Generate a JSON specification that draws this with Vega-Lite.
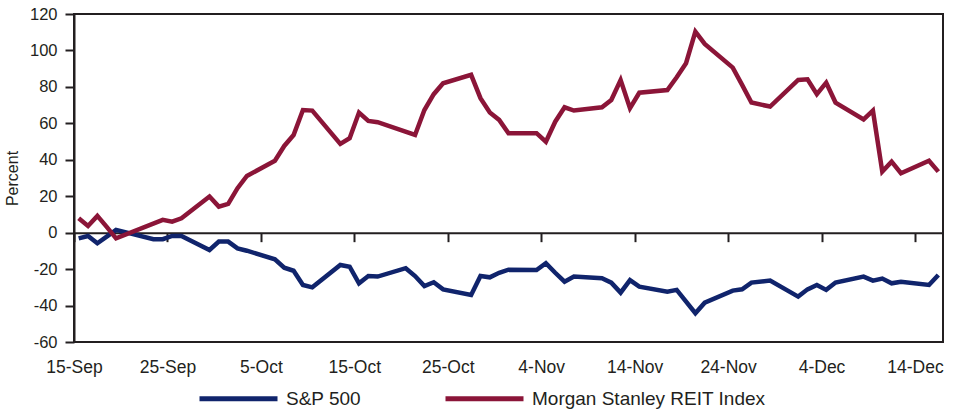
{
  "$schema": "https://vega.github.io/schema/vega-lite/v6.json",
  "width": 869,
  "height": 328,
  "autosize": {"type": "none"},
  "padding": {"left": 74, "top": 14, "right": 14, "bottom": 72},
  "background": "white",
  "config": {
    "view": {"stroke": "#231f20", "strokeWidth": 2},
    "font": "Liberation Sans",
    "axis": {"grid": false, "labelColor": "#231f20", "titleColor": "#231f20", "domainColor": "#231f20", "tickColor": "#231f20"}
  },
  "data": {
    "values": [
      {"d": "2008-09-15T12:00", "s": "S&P 500", "v": -3.1},
      {"d": "2008-09-16T12:00", "s": "S&P 500", "v": -1.8},
      {"d": "2008-09-17T12:00", "s": "S&P 500", "v": -5.8},
      {"d": "2008-09-18T12:00", "s": "S&P 500", "v": -2.2},
      {"d": "2008-09-19T12:00", "s": "S&P 500", "v": 1.5},
      {"d": "2008-09-23T12:00", "s": "S&P 500", "v": -3.6},
      {"d": "2008-09-24T12:00", "s": "S&P 500", "v": -3.6},
      {"d": "2008-09-25T12:00", "s": "S&P 500", "v": -1.8},
      {"d": "2008-09-26T12:00", "s": "S&P 500", "v": -1.8},
      {"d": "2008-09-29T12:00", "s": "S&P 500", "v": -9.5},
      {"d": "2008-09-30T12:00", "s": "S&P 500", "v": -4.9},
      {"d": "2008-10-01T12:00", "s": "S&P 500", "v": -4.9},
      {"d": "2008-10-02T12:00", "s": "S&P 500", "v": -8.6},
      {"d": "2008-10-03T12:00", "s": "S&P 500", "v": -9.9},
      {"d": "2008-10-06T12:00", "s": "S&P 500", "v": -14.6},
      {"d": "2008-10-07T12:00", "s": "S&P 500", "v": -19.2},
      {"d": "2008-10-08T12:00", "s": "S&P 500", "v": -20.9},
      {"d": "2008-10-09T12:00", "s": "S&P 500", "v": -28.7},
      {"d": "2008-10-10T12:00", "s": "S&P 500", "v": -30.0},
      {"d": "2008-10-13T12:00", "s": "S&P 500", "v": -17.7},
      {"d": "2008-10-14T12:00", "s": "S&P 500", "v": -18.7},
      {"d": "2008-10-15T12:00", "s": "S&P 500", "v": -27.8},
      {"d": "2008-10-16T12:00", "s": "S&P 500", "v": -23.8},
      {"d": "2008-10-17T12:00", "s": "S&P 500", "v": -24.1},
      {"d": "2008-10-20T12:00", "s": "S&P 500", "v": -19.5},
      {"d": "2008-10-21T12:00", "s": "S&P 500", "v": -23.8},
      {"d": "2008-10-22T12:00", "s": "S&P 500", "v": -29.3},
      {"d": "2008-10-23T12:00", "s": "S&P 500", "v": -27.2},
      {"d": "2008-10-24T12:00", "s": "S&P 500", "v": -31.1},
      {"d": "2008-10-27T12:00", "s": "S&P 500", "v": -34.2},
      {"d": "2008-10-28T12:00", "s": "S&P 500", "v": -23.8},
      {"d": "2008-10-29T12:00", "s": "S&P 500", "v": -24.5},
      {"d": "2008-10-30T12:00", "s": "S&P 500", "v": -22.0},
      {"d": "2008-10-31T12:00", "s": "S&P 500", "v": -20.3},
      {"d": "2008-11-03T12:00", "s": "S&P 500", "v": -20.5},
      {"d": "2008-11-04T12:00", "s": "S&P 500", "v": -16.8},
      {"d": "2008-11-05T12:00", "s": "S&P 500", "v": -22.0},
      {"d": "2008-11-06T12:00", "s": "S&P 500", "v": -26.9},
      {"d": "2008-11-07T12:00", "s": "S&P 500", "v": -24.1},
      {"d": "2008-11-10T12:00", "s": "S&P 500", "v": -25.0},
      {"d": "2008-11-11T12:00", "s": "S&P 500", "v": -27.4},
      {"d": "2008-11-12T12:00", "s": "S&P 500", "v": -32.9},
      {"d": "2008-11-13T12:00", "s": "S&P 500", "v": -26.0},
      {"d": "2008-11-14T12:00", "s": "S&P 500", "v": -29.6},
      {"d": "2008-11-17T12:00", "s": "S&P 500", "v": -32.4},
      {"d": "2008-11-18T12:00", "s": "S&P 500", "v": -31.4},
      {"d": "2008-11-20T12:00", "s": "S&P 500", "v": -44.2},
      {"d": "2008-11-21T12:00", "s": "S&P 500", "v": -38.4},
      {"d": "2008-11-24T12:00", "s": "S&P 500", "v": -31.8},
      {"d": "2008-11-25T12:00", "s": "S&P 500", "v": -31.1},
      {"d": "2008-11-26T12:00", "s": "S&P 500", "v": -27.4},
      {"d": "2008-11-28T12:00", "s": "S&P 500", "v": -26.3},
      {"d": "2008-12-01T12:00", "s": "S&P 500", "v": -35.1},
      {"d": "2008-12-02T12:00", "s": "S&P 500", "v": -31.1},
      {"d": "2008-12-03T12:00", "s": "S&P 500", "v": -28.7},
      {"d": "2008-12-04T12:00", "s": "S&P 500", "v": -31.4},
      {"d": "2008-12-05T12:00", "s": "S&P 500", "v": -27.4},
      {"d": "2008-12-08T12:00", "s": "S&P 500", "v": -24.1},
      {"d": "2008-12-09T12:00", "s": "S&P 500", "v": -26.3},
      {"d": "2008-12-10T12:00", "s": "S&P 500", "v": -25.2},
      {"d": "2008-12-11T12:00", "s": "S&P 500", "v": -27.8},
      {"d": "2008-12-12T12:00", "s": "S&P 500", "v": -26.9},
      {"d": "2008-12-15T12:00", "s": "S&P 500", "v": -28.7},
      {"d": "2008-12-16T12:00", "s": "S&P 500", "v": -23.2},
      {"d": "2008-09-15T12:00", "s": "Morgan Stanley REIT Index", "v": 7.9},
      {"d": "2008-09-16T12:00", "s": "Morgan Stanley REIT Index", "v": 3.7},
      {"d": "2008-09-17T12:00", "s": "Morgan Stanley REIT Index", "v": 9.2},
      {"d": "2008-09-18T12:00", "s": "Morgan Stanley REIT Index", "v": 3.2},
      {"d": "2008-09-19T12:00", "s": "Morgan Stanley REIT Index", "v": -3.1},
      {"d": "2008-09-24T12:00", "s": "Morgan Stanley REIT Index", "v": 7.0},
      {"d": "2008-09-25T12:00", "s": "Morgan Stanley REIT Index", "v": 6.0},
      {"d": "2008-09-26T12:00", "s": "Morgan Stanley REIT Index", "v": 7.9},
      {"d": "2008-09-29T12:00", "s": "Morgan Stanley REIT Index", "v": 19.8},
      {"d": "2008-09-30T12:00", "s": "Morgan Stanley REIT Index", "v": 14.3},
      {"d": "2008-10-01T12:00", "s": "Morgan Stanley REIT Index", "v": 15.8},
      {"d": "2008-10-02T12:00", "s": "Morgan Stanley REIT Index", "v": 24.4},
      {"d": "2008-10-03T12:00", "s": "Morgan Stanley REIT Index", "v": 31.1},
      {"d": "2008-10-06T12:00", "s": "Morgan Stanley REIT Index", "v": 39.5},
      {"d": "2008-10-07T12:00", "s": "Morgan Stanley REIT Index", "v": 47.6},
      {"d": "2008-10-08T12:00", "s": "Morgan Stanley REIT Index", "v": 53.6},
      {"d": "2008-10-09T12:00", "s": "Morgan Stanley REIT Index", "v": 67.3},
      {"d": "2008-10-10T12:00", "s": "Morgan Stanley REIT Index", "v": 67.0},
      {"d": "2008-10-13T12:00", "s": "Morgan Stanley REIT Index", "v": 48.7},
      {"d": "2008-10-14T12:00", "s": "Morgan Stanley REIT Index", "v": 51.8},
      {"d": "2008-10-15T12:00", "s": "Morgan Stanley REIT Index", "v": 65.9},
      {"d": "2008-10-16T12:00", "s": "Morgan Stanley REIT Index", "v": 61.3},
      {"d": "2008-10-17T12:00", "s": "Morgan Stanley REIT Index", "v": 60.6},
      {"d": "2008-10-21T12:00", "s": "Morgan Stanley REIT Index", "v": 53.6},
      {"d": "2008-10-22T12:00", "s": "Morgan Stanley REIT Index", "v": 67.3},
      {"d": "2008-10-23T12:00", "s": "Morgan Stanley REIT Index", "v": 76.0},
      {"d": "2008-10-24T12:00", "s": "Morgan Stanley REIT Index", "v": 82.0},
      {"d": "2008-10-27T12:00", "s": "Morgan Stanley REIT Index", "v": 86.6},
      {"d": "2008-10-28T12:00", "s": "Morgan Stanley REIT Index", "v": 73.8},
      {"d": "2008-10-29T12:00", "s": "Morgan Stanley REIT Index", "v": 65.9},
      {"d": "2008-10-30T12:00", "s": "Morgan Stanley REIT Index", "v": 61.9},
      {"d": "2008-10-31T12:00", "s": "Morgan Stanley REIT Index", "v": 54.6},
      {"d": "2008-11-03T12:00", "s": "Morgan Stanley REIT Index", "v": 54.6},
      {"d": "2008-11-04T12:00", "s": "Morgan Stanley REIT Index", "v": 49.9},
      {"d": "2008-11-05T12:00", "s": "Morgan Stanley REIT Index", "v": 60.9},
      {"d": "2008-11-06T12:00", "s": "Morgan Stanley REIT Index", "v": 68.8},
      {"d": "2008-11-07T12:00", "s": "Morgan Stanley REIT Index", "v": 67.0},
      {"d": "2008-11-10T12:00", "s": "Morgan Stanley REIT Index", "v": 68.8},
      {"d": "2008-11-11T12:00", "s": "Morgan Stanley REIT Index", "v": 72.8},
      {"d": "2008-11-12T12:00", "s": "Morgan Stanley REIT Index", "v": 83.8},
      {"d": "2008-11-13T12:00", "s": "Morgan Stanley REIT Index", "v": 68.3},
      {"d": "2008-11-14T12:00", "s": "Morgan Stanley REIT Index", "v": 76.8},
      {"d": "2008-11-17T12:00", "s": "Morgan Stanley REIT Index", "v": 78.3},
      {"d": "2008-11-18T12:00", "s": "Morgan Stanley REIT Index", "v": 85.3},
      {"d": "2008-11-19T12:00", "s": "Morgan Stanley REIT Index", "v": 93.0},
      {"d": "2008-11-20T12:00", "s": "Morgan Stanley REIT Index", "v": 110.3},
      {"d": "2008-11-21T12:00", "s": "Morgan Stanley REIT Index", "v": 103.6},
      {"d": "2008-11-24T12:00", "s": "Morgan Stanley REIT Index", "v": 90.6},
      {"d": "2008-11-25T12:00", "s": "Morgan Stanley REIT Index", "v": 81.1},
      {"d": "2008-11-26T12:00", "s": "Morgan Stanley REIT Index", "v": 71.4},
      {"d": "2008-11-28T12:00", "s": "Morgan Stanley REIT Index", "v": 69.2},
      {"d": "2008-12-01T12:00", "s": "Morgan Stanley REIT Index", "v": 83.8},
      {"d": "2008-12-02T12:00", "s": "Morgan Stanley REIT Index", "v": 84.2},
      {"d": "2008-12-03T12:00", "s": "Morgan Stanley REIT Index", "v": 76.0},
      {"d": "2008-12-04T12:00", "s": "Morgan Stanley REIT Index", "v": 82.3},
      {"d": "2008-12-05T12:00", "s": "Morgan Stanley REIT Index", "v": 71.4},
      {"d": "2008-12-08T12:00", "s": "Morgan Stanley REIT Index", "v": 62.2},
      {"d": "2008-12-09T12:00", "s": "Morgan Stanley REIT Index", "v": 67.0},
      {"d": "2008-12-10T12:00", "s": "Morgan Stanley REIT Index", "v": 33.5},
      {"d": "2008-12-11T12:00", "s": "Morgan Stanley REIT Index", "v": 39.0},
      {"d": "2008-12-12T12:00", "s": "Morgan Stanley REIT Index", "v": 32.6},
      {"d": "2008-12-15T12:00", "s": "Morgan Stanley REIT Index", "v": 39.5},
      {"d": "2008-12-16T12:00", "s": "Morgan Stanley REIT Index", "v": 33.5}
    ]
  },
  "encoding": {
    "y": {
      "field": "v",
      "type": "quantitative",
      "scale": {"domain": [-60, 120], "nice": false, "zero": false},
      "axis": {
        "values": [-60, -40, -20, 0, 20, 40, 60, 80, 100, 120],
        "labelExpr": "'' + datum.value",
        "tickSize": 9,
        "tickWidth": 2,
        "domainWidth": 2,
        "labelFontSize": 16.5,
        "labelPadding": 8,
        "title": "Percent",
        "titleFontSize": 16,
        "titleFontWeight": "normal",
        "titlePadding": 9
      }
    },
    "color": {
      "field": "s",
      "type": "nominal",
      "scale": {"domain": ["S&P 500", "Morgan Stanley REIT Index"], "range": ["#10246c", "#8b1538"]},
      "legend": {
        "orient": "none",
        "legendX": 123,
        "legendY": 343,
        "direction": "horizontal",
        "title": null,
        "symbolType": "stroke",
        "symbolSize": 6084,
        "symbolStrokeWidth": 5,
        "labelFontSize": 19,
        "labelOffset": 6,
        "labelLimit": 0,
        "columnPadding": 74,
        "labelColor": "#231f20"
      }
    }
  },
  "layer": [
    {
      "transform": [{"filter": "datum.s === 'S&P 500'"}],
      "mark": {"type": "line", "strokeWidth": 4.5, "strokeJoin": "miter"},
      "encoding": {
        "x": {
          "field": "d",
          "type": "temporal",
          "scale": {"domain": [{"year": 2008, "month": 9, "date": 15}, {"year": 2008, "month": 12, "date": 17}]},
          "axis": {
            "orient": "bottom",
            "values": [
              {"year": 2008, "month": 9, "date": 15}, {"year": 2008, "month": 9, "date": 25},
              {"year": 2008, "month": 10, "date": 5}, {"year": 2008, "month": 10, "date": 15},
              {"year": 2008, "month": 10, "date": 25}, {"year": 2008, "month": 11, "date": 4},
              {"year": 2008, "month": 11, "date": 14}, {"year": 2008, "month": 11, "date": 24},
              {"year": 2008, "month": 12, "date": 4}, {"year": 2008, "month": 12, "date": 14}
            ],
            "format": "%-d-%b",
            "ticks": false,
            "domain": false,
            "labelFontSize": 17.5,
            "labelPadding": 16,
            "labelFlush": false,
            "labelOverlap": false,
            "title": null
          }
        }
      }
    },
    {
      "transform": [{"filter": "datum.s !== 'S&P 500'"}],
      "mark": {"type": "line", "strokeWidth": 4.5, "strokeJoin": "miter"},
      "encoding": {
        "x": {
          "field": "d",
          "type": "temporal",
          "scale": {"domain": [{"year": 2008, "month": 9, "date": 15}, {"year": 2008, "month": 12, "date": 17}]},
          "axis": {
            "orient": "bottom",
            "values": [
              {"year": 2008, "month": 9, "date": 15}, {"year": 2008, "month": 9, "date": 25},
              {"year": 2008, "month": 10, "date": 5}, {"year": 2008, "month": 10, "date": 15},
              {"year": 2008, "month": 10, "date": 25}, {"year": 2008, "month": 11, "date": 4},
              {"year": 2008, "month": 11, "date": 14}, {"year": 2008, "month": 11, "date": 24},
              {"year": 2008, "month": 12, "date": 4}, {"year": 2008, "month": 12, "date": 14}
            ],
            "labels": false,
            "ticks": true,
            "tickSize": 9,
            "tickWidth": 2,
            "domain": true,
            "domainWidth": 2,
            "offset": -109.33,
            "title": null
          }
        }
      }
    }
  ],
  "resolve": {"axis": {"x": "independent"}}
}
